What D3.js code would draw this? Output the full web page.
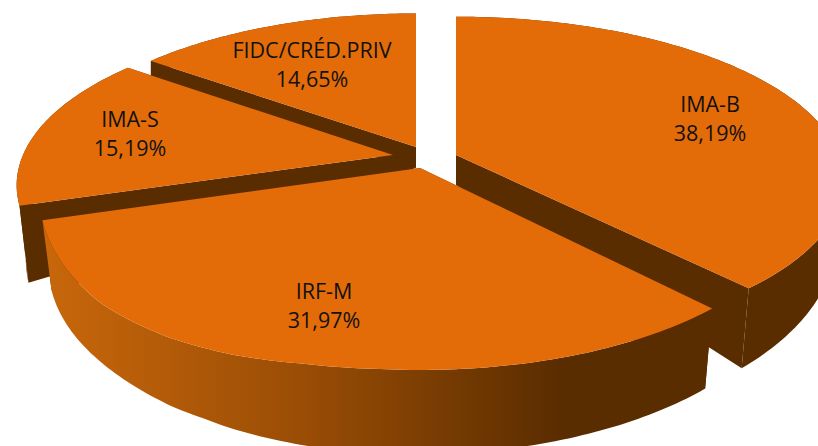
<!DOCTYPE html>
<html>
<head>
<meta charset="utf-8">
<script src="https://cdn.jsdelivr.net/npm/d3@7/dist/d3.min.js"></script>
<style>
  html, body { margin: 0; padding: 0; background: #fff; overflow: hidden; }
  text { font-family: "Open Sans", sans-serif; font-size: 21.5px; fill: #111; text-anchor: middle; }
</style>
</head>
<body>
<div id="chart"></div>
<script>
// data
const categories = ['IMA-B', 'IRF-M', 'IMA-S', 'FIDC/CRÉD.PRIV']
const shares = [38.19, 31.97, 15.19, 14.65]
const shareLabels = ['38,19%', '31,97%', '15,19%', '14,65%']

// layout, one entry per slice in the same order
const apexX = [456, 420, 393, 416]
const apexY = [155, 168, 155, 147]
const apexLowX = [456, 420, 416, 416]
const apexLowY = [185, 198, 168, 168]
const radiusX = [383, 374, 370, 370]
const radiusY = [160, 165, 160, 158]
const extraDepth = [0, 0, 7, 0]
const persp = [0.157, 0.183, 0.183, 0.183] // back of the disc is smaller than the front
const labelX = [710, 324, 130, 312]
const labelY = [112, 299, 127, 58]
const drawOrder = [3, 2, 0, 1]

const WIDTH = 818
const HEIGHT = 446
const ORANGE = '#e36c09'
const DARK = '#5a2d00'

// wall height around the rim, by angle in degrees
const rimDepth = d3.scaleLinear()
  .domain([0, 90, 137.5, 180, 195, 210, 229, 252.6, 307.3, 360])
  .range([12, 58, 80, 85, 82, 72, 65, 70, 15, 12])

// the front left of the disc bulges a bit more than a plain ellipse
const rimBulge = d3.scaleLinear()
  .domain([0, 185, 195, 205, 215, 229, 240, 252.6, 360])
  .range([0, 0, 2, 7, 10, 11, 6, 0, 0])

// lower edge pulls in towards the centre, front only
const rimShrink = d3.scaleLinear()
  .domain([-1, -0.2, 0.5, 1])
  .range([0.976, 0.976, 1, 1])

const pie = d3.pie().sort(null).value(d => d)
const arcs = pie(shares)

const svg = d3.select('#chart').append('svg')
  .attr('width', WIDTH)
  .attr('height', HEIGHT)

const grad = svg.append('defs').append('linearGradient')
  .attr('id', 'wall')
  .attr('gradientUnits', 'userSpaceOnUse')
  .attr('x1', 45).attr('x2', 560)
  .attr('y1', 0).attr('y2', 0)
grad.append('stop').attr('offset', 0).attr('stop-color', '#c8670b')
grad.append('stop').attr('offset', 0.5).attr('stop-color', '#9a4d05')
grad.append('stop').attr('offset', 1).attr('stop-color', DARK)

const line = d3.line()

// point on the top face rim
function topRim(i, a) {
  const w = 1 + persp[i] * Math.cos(a)
  const deg = a * 180 / Math.PI
  return [
    apexX[i] + radiusX[i] * Math.sin(a) / w,
    apexY[i] - radiusY[i] * Math.cos(a) / w + rimBulge(deg)
  ]
}

// same rim point on the lower edge of the wall
function bottomRim(i, a) {
  const p = topRim(i, a)
  const deg = a * 180 / Math.PI
  return [
    apexX[i] + (p[0] - apexX[i]) * rimShrink(Math.cos(a)),
    p[1] + rimDepth(deg) + extraDepth[i]
  ]
}

function sweep(d) {
  const n = Math.ceil((d.endAngle - d.startAngle) * 60)
  return d3.range(n + 1).map(k => d.startAngle + (d.endAngle - d.startAngle) * k / n)
}

drawOrder.forEach(i => {
  const d = arcs[i]
  const angles = sweep(d)
  const top = angles.map(a => topRim(i, a))
  const bottom = angles.map(a => bottomRim(i, a))
  const apex = [apexX[i], apexY[i]]
  const apexLow = [apexLowX[i], apexLowY[i]]
  const g = svg.append('g').attr('class', 'slice')

  // radial walls
  g.append('path')
    .attr('d', line([apex, top[0], bottom[0], apexLow]) + 'Z')
    .attr('fill', DARK)
  g.append('path')
    .attr('d', line([apex, top[top.length - 1], bottom[bottom.length - 1], apexLow]) + 'Z')
    .attr('fill', DARK)

  // outer wall, only the big front slice shows the gradient
  g.append('path')
    .attr('d', line(top.concat(bottom.slice().reverse())) + 'Z')
    .attr('fill', i === 1 ? 'url(#wall)' : DARK)

  // top face
  g.append('path')
    .attr('d', line([apex].concat(top)) + 'Z')
    .attr('fill', ORANGE)
})

categories.forEach((c, i) => {
  const t = svg.append('text').attr('x', labelX[i]).attr('y', labelY[i])
  t.append('tspan').attr('x', labelX[i]).text(c)
  t.append('tspan').attr('x', labelX[i]).attr('dy', 29).text(shareLabels[i])
})
</script>
</body>
</html>
